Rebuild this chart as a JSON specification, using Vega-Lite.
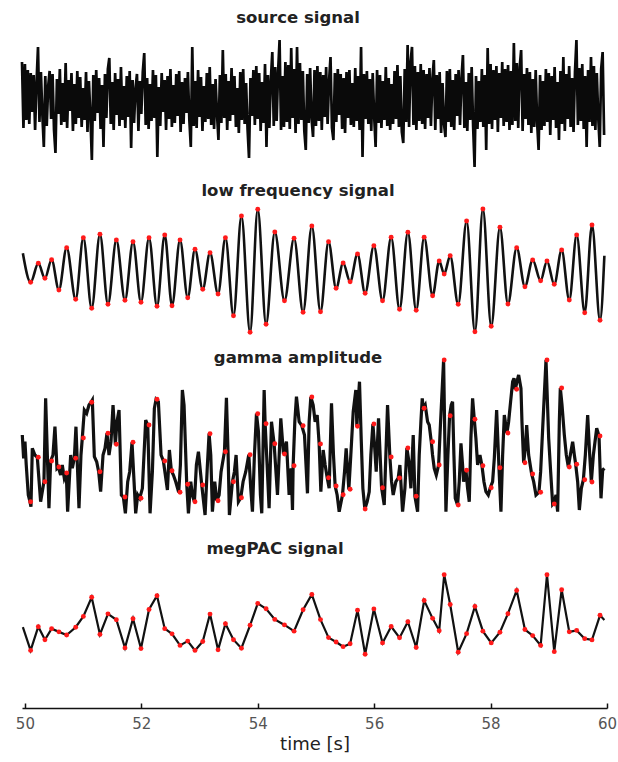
{
"$schema": "https://vega.github.io/schema/vega-lite/v6.json",
"background": "white",
"padding": {"left": 15, "right": 3, "top": 0, "bottom": 6},
"spacing": 0,
"config": {
  "view": {"stroke": null, "fill": "white"},
  "title": {"font": "DejaVu Sans", "fontSize": 16.5, "fontWeight": "bold", "color": "#222222", "anchor": "middle", "frame": "group"}
},
"datasets": {
"src": [
{"t":49.95,"v":38},{"t":49.975,"v":-28},{"t":50.0,"v":36},{"t":50.025,"v":-20},{"t":50.05,"v":30},{"t":50.075,"v":-24},{"t":50.1,"v":27},{"t":50.125,"v":-12},{"t":50.15,"v":25},{"t":50.175,"v":-30},{"t":50.2,"v":18},{"t":50.225,"v":53},{"t":50.25,"v":-22},{"t":50.275,"v":28},{"t":50.3,"v":-15},{"t":50.325,"v":-47},{"t":50.35,"v":24},{"t":50.375,"v":-26},{"t":50.4,"v":14},{"t":50.425,"v":29},
{"t":50.45,"v":-19},{"t":50.475,"v":26},{"t":50.5,"v":-30},{"t":50.525,"v":-53},{"t":50.55,"v":21},{"t":50.575,"v":-14},{"t":50.6,"v":31},{"t":50.625,"v":-25},{"t":50.65,"v":17},{"t":50.675,"v":-22},{"t":50.7,"v":37},{"t":50.725,"v":-28},{"t":50.75,"v":20},{"t":50.775,"v":-11},{"t":50.8,"v":27},{"t":50.825,"v":-31},{"t":50.85,"v":16},{"t":50.875,"v":-24},{"t":50.9,"v":29},{"t":50.925,"v":-18},
{"t":50.95,"v":23},{"t":50.975,"v":-27},{"t":51.0,"v":12},{"t":51.025,"v":-20},{"t":51.05,"v":28},{"t":51.075,"v":-32},{"t":51.1,"v":19},{"t":51.125,"v":-16},{"t":51.15,"v":-60},{"t":51.175,"v":25},{"t":51.2,"v":-21},{"t":51.225,"v":30},{"t":51.25,"v":-13},{"t":51.275,"v":22},{"t":51.3,"v":-29},{"t":51.325,"v":15},{"t":51.35,"v":-47},{"t":51.375,"v":26},{"t":51.4,"v":-18},{"t":51.425,"v":31},
{"t":51.45,"v":42},{"t":51.475,"v":-24},{"t":51.5,"v":18},{"t":51.525,"v":-30},{"t":51.55,"v":27},{"t":51.575,"v":-15},{"t":51.6,"v":21},{"t":51.625,"v":-26},{"t":51.65,"v":33},{"t":51.675,"v":-20},{"t":51.7,"v":14},{"t":51.725,"v":-28},{"t":51.75,"v":24},{"t":51.775,"v":-17},{"t":51.8,"v":29},{"t":51.825,"v":-48},{"t":51.85,"v":20},{"t":51.875,"v":-23},{"t":51.9,"v":11},{"t":51.925,"v":26},
{"t":51.95,"v":-31},{"t":51.975,"v":19},{"t":52.0,"v":-14},{"t":52.025,"v":28},{"t":52.05,"v":47},{"t":52.075,"v":-25},{"t":52.1,"v":22},{"t":52.125,"v":-29},{"t":52.15,"v":16},{"t":52.175,"v":-21},{"t":52.2,"v":30},{"t":52.225,"v":-18},{"t":52.25,"v":25},{"t":52.275,"v":-57},{"t":52.3,"v":13},{"t":52.325,"v":-26},{"t":52.35,"v":27},{"t":52.375,"v":-12},{"t":52.4,"v":20},{"t":52.425,"v":-30},
{"t":52.45,"v":24},{"t":52.475,"v":-19},{"t":52.5,"v":31},{"t":52.525,"v":-27},{"t":52.55,"v":15},{"t":52.575,"v":-23},{"t":52.6,"v":26},{"t":52.625,"v":-16},{"t":52.65,"v":29},{"t":52.675,"v":-32},{"t":52.7,"v":18},{"t":52.725,"v":-24},{"t":52.75,"v":22},{"t":52.775,"v":-13},{"t":52.8,"v":28},{"t":52.825,"v":-20},{"t":52.85,"v":-47},{"t":52.875,"v":53},{"t":52.9,"v":-26},{"t":52.925,"v":19},
{"t":52.95,"v":-28},{"t":52.975,"v":30},{"t":53.0,"v":-17},{"t":53.025,"v":23},{"t":53.05,"v":-31},{"t":53.075,"v":14},{"t":53.1,"v":-22},{"t":53.125,"v":27},{"t":53.15,"v":-19},{"t":53.175,"v":33},{"t":53.2,"v":-25},{"t":53.225,"v":16},{"t":53.25,"v":-29},{"t":53.275,"v":21},{"t":53.3,"v":-14},{"t":53.325,"v":-40},{"t":53.35,"v":25},{"t":53.375,"v":-23},{"t":53.4,"v":50},{"t":53.425,"v":-18},
{"t":53.45,"v":26},{"t":53.475,"v":-30},{"t":53.5,"v":19},{"t":53.525,"v":-21},{"t":53.55,"v":32},{"t":53.575,"v":-15},{"t":53.6,"v":24},{"t":53.625,"v":-27},{"t":53.65,"v":12},{"t":53.675,"v":-33},{"t":53.7,"v":28},{"t":53.725,"v":-20},{"t":53.75,"v":31},{"t":53.775,"v":-24},{"t":53.8,"v":17},{"t":53.825,"v":-29},{"t":53.85,"v":-58},{"t":53.875,"v":22},{"t":53.9,"v":-16},{"t":53.925,"v":30},
{"t":53.95,"v":-25},{"t":53.975,"v":34},{"t":54.0,"v":-19},{"t":54.025,"v":27},{"t":54.05,"v":-31},{"t":54.075,"v":18},{"t":54.1,"v":-23},{"t":54.125,"v":36},{"t":54.15,"v":-47},{"t":54.175,"v":25},{"t":54.2,"v":-28},{"t":54.225,"v":20},{"t":54.25,"v":48},{"t":54.275,"v":-26},{"t":54.3,"v":33},{"t":54.325,"v":-21},{"t":54.35,"v":29},{"t":54.375,"v":60},{"t":54.4,"v":-30},{"t":54.425,"v":24},
{"t":54.45,"v":-27},{"t":54.475,"v":38},{"t":54.5,"v":-22},{"t":54.525,"v":35},{"t":54.55,"v":-29},{"t":54.575,"v":52},{"t":54.6,"v":-18},{"t":54.625,"v":31},{"t":54.65,"v":-33},{"t":54.675,"v":53},{"t":54.7,"v":-24},{"t":54.725,"v":37},{"t":54.75,"v":-20},{"t":54.775,"v":29},{"t":54.8,"v":-31},{"t":54.825,"v":-50},{"t":54.85,"v":26},{"t":54.875,"v":-23},{"t":54.9,"v":32},{"t":54.925,"v":-19},
{"t":54.95,"v":-37},{"t":54.975,"v":30},{"t":55.0,"v":-26},{"t":55.025,"v":34},{"t":55.05,"v":-21},{"t":55.075,"v":28},{"t":55.1,"v":-30},{"t":55.125,"v":25},{"t":55.15,"v":-17},{"t":55.175,"v":33},{"t":55.2,"v":-24},{"t":55.225,"v":19},{"t":55.25,"v":43},{"t":55.275,"v":-28},{"t":55.3,"v":-40},{"t":55.325,"v":27},{"t":55.35,"v":-22},{"t":55.375,"v":31},{"t":55.4,"v":-15},{"t":55.425,"v":26},
{"t":55.45,"v":-29},{"t":55.475,"v":22},{"t":55.5,"v":-33},{"t":55.525,"v":28},{"t":55.55,"v":-18},{"t":55.575,"v":30},{"t":55.6,"v":-25},{"t":55.625,"v":17},{"t":55.65,"v":-27},{"t":55.675,"v":32},{"t":55.7,"v":-21},{"t":55.725,"v":24},{"t":55.75,"v":-30},{"t":55.775,"v":53},{"t":55.8,"v":-57},{"t":55.825,"v":26},{"t":55.85,"v":-19},{"t":55.875,"v":29},{"t":55.9,"v":-24},{"t":55.925,"v":21},
{"t":55.95,"v":-31},{"t":55.975,"v":27},{"t":56.0,"v":-16},{"t":56.025,"v":-47},{"t":56.05,"v":30},{"t":56.075,"v":-23},{"t":56.1,"v":25},{"t":56.125,"v":-28},{"t":56.15,"v":19},{"t":56.175,"v":-20},{"t":56.2,"v":33},{"t":56.225,"v":-26},{"t":56.25,"v":22},{"t":56.275,"v":-30},{"t":56.3,"v":16},{"t":56.325,"v":-24},{"t":56.35,"v":29},{"t":56.375,"v":-19},{"t":56.4,"v":35},{"t":56.425,"v":-27},
{"t":56.45,"v":24},{"t":56.475,"v":-32},{"t":56.5,"v":-43},{"t":56.525,"v":31},{"t":56.55,"v":-22},{"t":56.575,"v":55},{"t":56.6,"v":-27},{"t":56.625,"v":38},{"t":56.65,"v":53},{"t":56.675,"v":-25},{"t":56.7,"v":34},{"t":56.725,"v":-30},{"t":56.75,"v":28},{"t":56.775,"v":-21},{"t":56.8,"v":36},{"t":56.825,"v":-24},{"t":56.85,"v":30},{"t":56.875,"v":-29},{"t":56.9,"v":26},{"t":56.925,"v":-18},
{"t":56.95,"v":32},{"t":56.975,"v":-26},{"t":57.0,"v":21},{"t":57.025,"v":40},{"t":57.05,"v":-30},{"t":57.075,"v":25},{"t":57.1,"v":-19},{"t":57.125,"v":28},{"t":57.15,"v":-33},{"t":57.175,"v":17},{"t":57.2,"v":-24},{"t":57.225,"v":-37},{"t":57.25,"v":29},{"t":57.275,"v":-22},{"t":57.3,"v":31},{"t":57.325,"v":-27},{"t":57.35,"v":20},{"t":57.375,"v":-30},{"t":57.4,"v":26},{"t":57.425,"v":-16},
{"t":57.45,"v":30},{"t":57.475,"v":-25},{"t":57.5,"v":22},{"t":57.525,"v":45},{"t":57.55,"v":-28},{"t":57.575,"v":18},{"t":57.6,"v":-31},{"t":57.625,"v":27},{"t":57.65,"v":-20},{"t":57.675,"v":33},{"t":57.7,"v":-26},{"t":57.725,"v":-67},{"t":57.75,"v":24},{"t":57.775,"v":-29},{"t":57.8,"v":19},{"t":57.825,"v":-22},{"t":57.85,"v":31},{"t":57.875,"v":-27},{"t":57.9,"v":25},{"t":57.925,"v":-50},
{"t":57.95,"v":52},{"t":57.975,"v":-24},{"t":58.0,"v":36},{"t":58.025,"v":-29},{"t":58.05,"v":30},{"t":58.075,"v":-20},{"t":58.1,"v":34},{"t":58.125,"v":-32},{"t":58.15,"v":27},{"t":58.175,"v":-18},{"t":58.2,"v":38},{"t":58.225,"v":-26},{"t":58.25,"v":31},{"t":58.275,"v":-22},{"t":58.3,"v":35},{"t":58.325,"v":-30},{"t":58.35,"v":29},{"t":58.375,"v":-25},{"t":58.4,"v":57},{"t":58.425,"v":-21},
{"t":58.45,"v":37},{"t":58.475,"v":-28},{"t":58.5,"v":33},{"t":58.525,"v":50},{"t":58.55,"v":-31},{"t":58.575,"v":26},{"t":58.6,"v":-19},{"t":58.625,"v":32},{"t":58.65,"v":-25},{"t":58.675,"v":28},{"t":58.7,"v":-33},{"t":58.725,"v":21},{"t":58.75,"v":-27},{"t":58.775,"v":30},{"t":58.8,"v":-23},{"t":58.825,"v":-50},{"t":58.85,"v":25},{"t":58.875,"v":-30},{"t":58.9,"v":19},{"t":58.925,"v":-26},
{"t":58.95,"v":31},{"t":58.975,"v":-22},{"t":59.0,"v":27},{"t":59.025,"v":-35},{"t":59.05,"v":24},{"t":59.075,"v":-20},{"t":59.1,"v":33},{"t":59.125,"v":-28},{"t":59.15,"v":18},{"t":59.175,"v":-40},{"t":59.2,"v":29},{"t":59.225,"v":-24},{"t":59.25,"v":43},{"t":59.275,"v":-31},{"t":59.3,"v":26},{"t":59.325,"v":-19},{"t":59.35,"v":34},{"t":59.375,"v":-27},{"t":59.4,"v":22},{"t":59.425,"v":-32},
{"t":59.45,"v":28},{"t":59.475,"v":60},{"t":59.5,"v":-25},{"t":59.525,"v":32},{"t":59.55,"v":-21},{"t":59.575,"v":36},{"t":59.6,"v":-29},{"t":59.625,"v":24},{"t":59.65,"v":-47},{"t":59.675,"v":30},{"t":59.7,"v":-22},{"t":59.725,"v":43},{"t":59.75,"v":-26},{"t":59.775,"v":34},{"t":59.8,"v":-30},{"t":59.825,"v":27},{"t":59.85,"v":-18},{"t":59.875,"v":-47},{"t":59.9,"v":31},{"t":59.925,"v":48},
{"t":59.95,"v":-35}
],
"ext": [
{"t":49.965,"lf":1.67,"amp":5.67,"dot":false},
{"t":50.098,"lf":-1.23,"amp":1.33,"dot":true},
{"t":50.230,"lf":0.67,"amp":5.77,"dot":true},
{"t":50.344,"lf":-0.83,"amp":3.33,"dot":true},
{"t":50.459,"lf":1.03,"amp":5.4,"dot":true},
{"t":50.584,"lf":-2.0,"amp":4.8,"dot":true},
{"t":50.717,"lf":2.23,"amp":4.2,"dot":true},
{"t":50.872,"lf":-2.93,"amp":5.67,"dot":true},
{"t":51.004,"lf":3.23,"amp":7.7,"dot":true},
{"t":51.147,"lf":-3.83,"amp":11.27,"dot":true},
{"t":51.289,"lf":3.57,"amp":4.33,"dot":true},
{"t":51.427,"lf":-3.43,"amp":8.17,"dot":true},
{"t":51.571,"lf":3.0,"amp":7.07,"dot":true},
{"t":51.719,"lf":-3.03,"amp":1.8,"dot":true},
{"t":51.857,"lf":2.83,"amp":7.27,"dot":true},
{"t":51.994,"lf":-3.23,"amp":1.67,"dot":true},
{"t":52.132,"lf":3.23,"amp":9.0,"dot":true},
{"t":52.269,"lf":-3.63,"amp":11.57,"dot":true},
{"t":52.402,"lf":3.5,"amp":5.4,"dot":true},
{"t":52.527,"lf":-3.57,"amp":4.43,"dot":true},
{"t":52.665,"lf":3.0,"amp":2.27,"dot":true},
{"t":52.797,"lf":-2.77,"amp":3.07,"dot":true},
{"t":52.922,"lf":2.07,"amp":1.33,"dot":true},
{"t":53.055,"lf":-1.93,"amp":3.0,"dot":true},
{"t":53.180,"lf":1.73,"amp":8.13,"dot":true},
{"t":53.318,"lf":-2.4,"amp":1.43,"dot":true},
{"t":53.445,"lf":3.23,"amp":6.33,"dot":true},
{"t":53.583,"lf":-4.57,"amp":3.33,"dot":true},
{"t":53.720,"lf":5.4,"amp":1.73,"dot":true},
{"t":53.868,"lf":-6.23,"amp":6.03,"dot":true},
{"t":54.000,"lf":6.07,"amp":10.13,"dot":true},
{"t":54.143,"lf":-5.43,"amp":9.13,"dot":true},
{"t":54.293,"lf":3.8,"amp":7.13,"dot":true},
{"t":54.459,"lf":-3.07,"amp":6.1,"dot":true},
{"t":54.624,"lf":3.17,"amp":4.93,"dot":true},
{"t":54.779,"lf":-4.23,"amp":8.93,"dot":true},
{"t":54.929,"lf":4.4,"amp":11.8,"dot":true},
{"t":55.078,"lf":-4.17,"amp":7.1,"dot":true},
{"t":55.216,"lf":2.83,"amp":3.73,"dot":true},
{"t":55.346,"lf":-1.83,"amp":2.9,"dot":true},
{"t":55.467,"lf":0.7,"amp":2.03,"dot":true},
{"t":55.587,"lf":-1.17,"amp":2.57,"dot":true},
{"t":55.714,"lf":1.6,"amp":8.87,"dot":true},
{"t":55.845,"lf":-2.33,"amp":0.6,"dot":true},
{"t":55.995,"lf":2.43,"amp":9.1,"dot":true},
{"t":56.144,"lf":-3.07,"amp":2.73,"dot":true},
{"t":56.292,"lf":3.27,"amp":5.8,"dot":true},
{"t":56.436,"lf":-3.93,"amp":3.7,"dot":true},
{"t":56.579,"lf":3.77,"amp":6.7,"dot":true},
{"t":56.722,"lf":-4.03,"amp":1.87,"dot":true},
{"t":56.859,"lf":3.27,"amp":10.67,"dot":true},
{"t":57.004,"lf":-2.57,"amp":7.33,"dot":true},
{"t":57.117,"lf":0.9,"amp":5.0,"dot":true},
{"t":57.203,"lf":-0.4,"amp":15.5,"dot":true},
{"t":57.306,"lf":1.43,"amp":9.93,"dot":true},
{"t":57.444,"lf":-3.43,"amp":1.0,"dot":true},
{"t":57.588,"lf":4.9,"amp":4.47,"dot":true},
{"t":57.731,"lf":-6.17,"amp":9.57,"dot":true},
{"t":57.868,"lf":6.1,"amp":4.93,"dot":true},
{"t":58.011,"lf":-5.63,"amp":2.73,"dot":true},
{"t":58.161,"lf":4.27,"amp":4.73,"dot":true},
{"t":58.298,"lf":-3.4,"amp":8.2,"dot":true},
{"t":58.448,"lf":2.23,"amp":12.57,"dot":true},
{"t":58.590,"lf":-1.67,"amp":5.23,"dot":true},
{"t":58.723,"lf":1.0,"amp":4.1,"dot":true},
{"t":58.860,"lf":-1.07,"amp":2.27,"dot":true},
{"t":58.969,"lf":0.9,"amp":15.5,"dot":true},
{"t":59.094,"lf":-1.43,"amp":1.1,"dot":true},
{"t":59.221,"lf":2.0,"amp":12.7,"dot":true},
{"t":59.352,"lf":-3.0,"amp":4.8,"dot":true},
{"t":59.479,"lf":3.5,"amp":5.07,"dot":true},
{"t":59.617,"lf":-4.27,"amp":3.53,"dot":true},
{"t":59.742,"lf":4.5,"amp":3.3,"dot":true},
{"t":59.880,"lf":-5.03,"amp":7.9,"dot":true},
{"t":59.955,"lf":1.43,"amp":7.03,"dot":false}
],
"gam": [
{"t":49.955,"amp":8.0},{"t":49.978,"amp":5.67},{"t":50.001,"amp":7.33},{"t":50.023,"amp":5.0},{"t":50.058,"amp":2.0},{"t":50.087,"amp":1.33},{"t":50.104,"amp":0.83},{"t":50.127,"amp":6.67},{"t":50.172,"amp":6.0},{"t":50.213,"amp":5.77},
{"t":50.270,"amp":1.33},{"t":50.327,"amp":3.33},{"t":50.356,"amp":11.67},{"t":50.413,"amp":0.67},{"t":50.442,"amp":5.4},{"t":50.482,"amp":6.0},{"t":50.516,"amp":8.83},{"t":50.551,"amp":4.67},{"t":50.574,"amp":4.8},{"t":50.614,"amp":4.0},
{"t":50.642,"amp":5.0},{"t":50.677,"amp":3.67},{"t":50.711,"amp":4.2},{"t":50.734,"amp":0.33},{"t":50.786,"amp":6.0},{"t":50.814,"amp":4.67},{"t":50.849,"amp":5.67},{"t":50.877,"amp":8.83},{"t":50.929,"amp":0.67},{"t":50.963,"amp":6.0},
{"t":50.986,"amp":7.7},{"t":51.021,"amp":10.5},{"t":51.061,"amp":10.17},{"t":51.101,"amp":11.0},{"t":51.135,"amp":11.27},{"t":51.158,"amp":11.5},{"t":51.193,"amp":5.83},{"t":51.233,"amp":5.33},{"t":51.267,"amp":4.33},{"t":51.301,"amp":2.33},
{"t":51.342,"amp":6.0},{"t":51.376,"amp":6.67},{"t":51.410,"amp":8.17},{"t":51.445,"amp":6.0},{"t":51.479,"amp":7.33},{"t":51.514,"amp":11.0},{"t":51.554,"amp":7.07},{"t":51.582,"amp":9.33},{"t":51.617,"amp":10.5},{"t":51.657,"amp":2.0},
{"t":51.691,"amp":1.8},{"t":51.726,"amp":0.17},{"t":51.766,"amp":3.33},{"t":51.800,"amp":4.33},{"t":51.840,"amp":7.27},{"t":51.875,"amp":3.33},{"t":51.903,"amp":0.17},{"t":51.938,"amp":2.0},{"t":51.972,"amp":1.67},{"t":52.018,"amp":2.67},
{"t":52.075,"amp":9.5},{"t":52.110,"amp":9.0},{"t":52.150,"amp":0.17},{"t":52.190,"amp":4.33},{"t":52.224,"amp":10.67},{"t":52.253,"amp":11.57},{"t":52.293,"amp":11.33},{"t":52.339,"amp":6.0},{"t":52.379,"amp":5.4},{"t":52.448,"amp":2.5},
{"t":52.482,"amp":6.5},{"t":52.516,"amp":4.43},{"t":52.551,"amp":4.0},{"t":52.591,"amp":3.33},{"t":52.642,"amp":2.27},{"t":52.671,"amp":5.0},{"t":52.705,"amp":12.5},{"t":52.734,"amp":11.0},{"t":52.763,"amp":6.0},{"t":52.780,"amp":3.07},
{"t":52.809,"amp":0.17},{"t":52.849,"amp":3.33},{"t":52.877,"amp":2.0},{"t":52.912,"amp":1.33},{"t":52.946,"amp":5.0},{"t":52.981,"amp":6.33},{"t":53.038,"amp":3.0},{"t":53.095,"amp":0.0},{"t":53.135,"amp":5.0},{"t":53.164,"amp":8.13},
{"t":53.193,"amp":6.0},{"t":53.221,"amp":0.33},{"t":53.261,"amp":3.33},{"t":53.296,"amp":1.43},{"t":53.336,"amp":2.0},{"t":53.370,"amp":4.33},{"t":53.428,"amp":6.33},{"t":53.462,"amp":11.73},{"t":53.491,"amp":6.0},{"t":53.513,"amp":0.0},
{"t":53.565,"amp":3.33},{"t":53.599,"amp":4.33},{"t":53.628,"amp":6.0},{"t":53.668,"amp":1.33},{"t":53.708,"amp":1.73},{"t":53.748,"amp":3.33},{"t":53.794,"amp":4.33},{"t":53.846,"amp":6.03},{"t":53.880,"amp":2.67},{"t":53.909,"amp":0.33},
{"t":53.943,"amp":6.0},{"t":53.978,"amp":10.13},{"t":54.012,"amp":8.33},{"t":54.046,"amp":2.0},{"t":54.069,"amp":0.17},{"t":54.110,"amp":12.5},{"t":54.127,"amp":9.13},{"t":54.161,"amp":5.0},{"t":54.195,"amp":0.67},{"t":54.236,"amp":9.33},
{"t":54.281,"amp":7.13},{"t":54.339,"amp":2.0},{"t":54.396,"amp":9.67},{"t":54.442,"amp":6.1},{"t":54.493,"amp":7.33},{"t":54.539,"amp":2.0},{"t":54.574,"amp":4.67},{"t":54.597,"amp":0.5},{"t":54.608,"amp":4.93},{"t":54.637,"amp":9.33},
{"t":54.665,"amp":11.83},{"t":54.711,"amp":9.33},{"t":54.757,"amp":8.93},{"t":54.803,"amp":8.0},{"t":54.854,"amp":2.17},{"t":54.883,"amp":9.33},{"t":54.912,"amp":11.8},{"t":54.952,"amp":11.0},{"t":54.986,"amp":9.33},{"t":55.021,"amp":10.0},
{"t":55.055,"amp":7.1},{"t":55.084,"amp":2.33},{"t":55.124,"amp":6.5},{"t":55.158,"amp":5.0},{"t":55.193,"amp":3.73},{"t":55.227,"amp":2.67},{"t":55.267,"amp":11.17},{"t":55.301,"amp":6.0},{"t":55.330,"amp":2.9},{"t":55.364,"amp":2.0},
{"t":55.399,"amp":0.33},{"t":55.456,"amp":2.03},{"t":55.491,"amp":4.33},{"t":55.519,"amp":6.67},{"t":55.565,"amp":2.57},{"t":55.599,"amp":6.0},{"t":55.640,"amp":10.33},{"t":55.685,"amp":12.5},{"t":55.703,"amp":8.87},{"t":55.726,"amp":11.33},
{"t":55.748,"amp":13.33},{"t":55.777,"amp":7.67},{"t":55.806,"amp":2.67},{"t":55.840,"amp":0.6},{"t":55.880,"amp":1.33},{"t":55.915,"amp":2.33},{"t":55.943,"amp":6.0},{"t":55.978,"amp":9.1},{"t":56.006,"amp":7.0},{"t":56.035,"amp":4.33},
{"t":56.075,"amp":9.67},{"t":56.127,"amp":2.73},{"t":56.173,"amp":1.0},{"t":56.201,"amp":6.0},{"t":56.230,"amp":11.0},{"t":56.270,"amp":5.8},{"t":56.299,"amp":3.33},{"t":56.327,"amp":2.0},{"t":56.373,"amp":3.33},{"t":56.413,"amp":3.7},
{"t":56.442,"amp":5.0},{"t":56.488,"amp":0.33},{"t":56.528,"amp":2.67},{"t":56.562,"amp":6.7},{"t":56.597,"amp":5.33},{"t":56.631,"amp":2.67},{"t":56.671,"amp":8.0},{"t":56.700,"amp":1.87},{"t":56.746,"amp":0.33},{"t":56.774,"amp":6.0},
{"t":56.803,"amp":9.33},{"t":56.826,"amp":11.67},{"t":56.843,"amp":10.67},{"t":56.877,"amp":11.0},{"t":56.918,"amp":9.33},{"t":56.946,"amp":9.0},{"t":56.981,"amp":7.33},{"t":57.003,"amp":6.0},{"t":57.032,"amp":4.67},{"t":57.067,"amp":4.0},
{"t":57.107,"amp":5.0},{"t":57.141,"amp":9.33},{"t":57.193,"amp":15.5},{"t":57.233,"amp":0.33},{"t":57.267,"amp":6.0},{"t":57.296,"amp":9.93},{"t":57.324,"amp":11.0},{"t":57.347,"amp":11.33},{"t":57.370,"amp":6.0},{"t":57.393,"amp":1.67},
{"t":57.433,"amp":1.0},{"t":57.462,"amp":3.33},{"t":57.491,"amp":7.17},{"t":57.519,"amp":5.0},{"t":57.536,"amp":3.33},{"t":57.577,"amp":4.47},{"t":57.605,"amp":2.67},{"t":57.634,"amp":1.33},{"t":57.662,"amp":7.67},{"t":57.691,"amp":11.67},
{"t":57.720,"amp":9.57},{"t":57.748,"amp":7.67},{"t":57.777,"amp":5.0},{"t":57.817,"amp":6.0},{"t":57.852,"amp":4.93},{"t":57.886,"amp":3.33},{"t":57.920,"amp":2.33},{"t":57.960,"amp":2.0},{"t":57.995,"amp":2.73},{"t":58.035,"amp":3.33},
{"t":58.064,"amp":5.67},{"t":58.104,"amp":10.5},{"t":58.144,"amp":4.73},{"t":58.178,"amp":0.33},{"t":58.207,"amp":6.0},{"t":58.236,"amp":10.0},{"t":58.281,"amp":8.2},{"t":58.310,"amp":9.33},{"t":58.344,"amp":11.33},{"t":58.379,"amp":13.33},
{"t":58.402,"amp":13.67},{"t":58.425,"amp":12.57},{"t":58.453,"amp":13.33},{"t":58.482,"amp":14.0},{"t":58.522,"amp":12.67},{"t":58.539,"amp":9.33},{"t":58.568,"amp":5.23},{"t":58.597,"amp":6.67},{"t":58.620,"amp":9.0},{"t":58.654,"amp":6.0},
{"t":58.705,"amp":4.1},{"t":58.740,"amp":3.33},{"t":58.780,"amp":2.0},{"t":58.831,"amp":2.27},{"t":58.860,"amp":4.33},{"t":58.895,"amp":8.67},{"t":58.952,"amp":15.5},{"t":58.998,"amp":7.67},{"t":59.032,"amp":4.33},{"t":59.066,"amp":1.1},
{"t":59.095,"amp":1.33},{"t":59.124,"amp":2.0},{"t":59.152,"amp":0.33},{"t":59.181,"amp":9.33},{"t":59.198,"amp":12.7},{"t":59.227,"amp":11.0},{"t":59.267,"amp":8.0},{"t":59.301,"amp":6.0},{"t":59.336,"amp":4.8},{"t":59.370,"amp":6.0},
{"t":59.410,"amp":7.33},{"t":59.439,"amp":6.0},{"t":59.462,"amp":5.07},{"t":59.496,"amp":3.33},{"t":59.525,"amp":0.5},{"t":59.559,"amp":2.67},{"t":59.594,"amp":3.53},{"t":59.628,"amp":6.0},{"t":59.668,"amp":10.0},{"t":59.703,"amp":6.0},
{"t":59.731,"amp":3.3},{"t":59.766,"amp":6.0},{"t":59.794,"amp":7.33},{"t":59.823,"amp":8.67},{"t":59.863,"amp":7.9},{"t":59.897,"amp":1.67},{"t":59.926,"amp":4.5},{"t":59.955,"amp":4.67}
]
},
"vconcat": [
{
  "title": {"text": "source signal", "offset": -26, "dx": -16.5},
  "width": 585, "height": 180,
  "data": {"name": "src"},
  "mark": {"type": "line", "color": "#0a0a0a", "strokeWidth": 2.7},
  "encoding": {
    "x": {"field": "t", "type": "quantitative", "scale": {"domain": [49.95, 60], "nice": false, "zero": false}, "axis": null},
    "y": {"field": "v", "type": "quantitative", "scale": {"domain": [-80, 100], "nice": false, "zero": false}, "axis": null}
  }
},
{
  "title": {"text": "low frequency signal", "offset": -19, "dx": -16.5},
  "width": 585, "height": 165,
  "data": {"name": "ext"},
  "encoding": {
    "x": {"field": "t", "type": "quantitative", "scale": {"domain": [49.95, 60], "nice": false, "zero": false}, "axis": null},
    "y": {"field": "lf", "type": "quantitative", "scale": {"domain": [-7.5, 9.0], "nice": false, "zero": false}, "axis": null}
  },
  "layer": [
    {"mark": {"type": "line", "interpolate": "monotone", "color": "#111111", "strokeWidth": 2.6}},
    {"transform": [{"filter": "datum.dot"}], "mark": {"type": "circle", "color": "#ff1a1a", "size": 24, "opacity": 1}}
  ]
},
{
  "title": {"text": "gamma amplitude", "offset": -21, "dx": -16.5},
  "width": 585, "height": 190,
  "encoding": {
    "x": {"field": "t", "type": "quantitative", "scale": {"domain": [49.95, 60], "nice": false, "zero": false}, "axis": null},
    "y": {"field": "amp", "type": "quantitative", "scale": {"domain": [-2, 17], "nice": false, "zero": false}, "axis": null}
  },
  "layer": [
    {"data": {"name": "gam"}, "mark": {"type": "line", "color": "#111111", "strokeWidth": 3.2}},
    {"data": {"name": "ext"}, "transform": [{"filter": "datum.dot"}], "mark": {"type": "circle", "color": "#ff1a1a", "size": 24, "opacity": 1}}
  ]
},
{
  "title": {"text": "megPAC signal", "offset": -22, "dx": -39.5},
  "width": 585, "height": 173,
  "data": {"name": "ext"},
  "encoding": {
    "x": {"field": "t", "type": "quantitative", "scale": {"domain": [49.95, 60], "nice": false, "zero": false},
      "axis": {"values": [50, 52, 54, 56, 58, 60], "format": "d", "grid": false, "labelFlush": false,
        "domainColor": "#111111", "domainWidth": 1.5, "tickColor": "#111111", "tickWidth": 1.5, "tickSize": -5,
        "labelFont": "DejaVu Sans", "labelFontSize": 15, "labelColor": "#555555", "labelPadding": 13,
        "title": "time [s]", "titleFont": "DejaVu Sans", "titleFontSize": 18, "titleFontWeight": "normal", "titleColor": "#222222", "titlePadding": 4}},
    "y": {"field": "amp", "type": "quantitative", "scale": {"domain": [-9.457, 22.94], "nice": false, "zero": false}, "axis": null}
  },
  "layer": [
    {"mark": {"type": "line", "color": "#111111", "strokeWidth": 2.2}},
    {"transform": [{"filter": "datum.dot"}], "mark": {"type": "circle", "color": "#ff1a1a", "size": 24, "opacity": 1}}
  ]
}
]
}
